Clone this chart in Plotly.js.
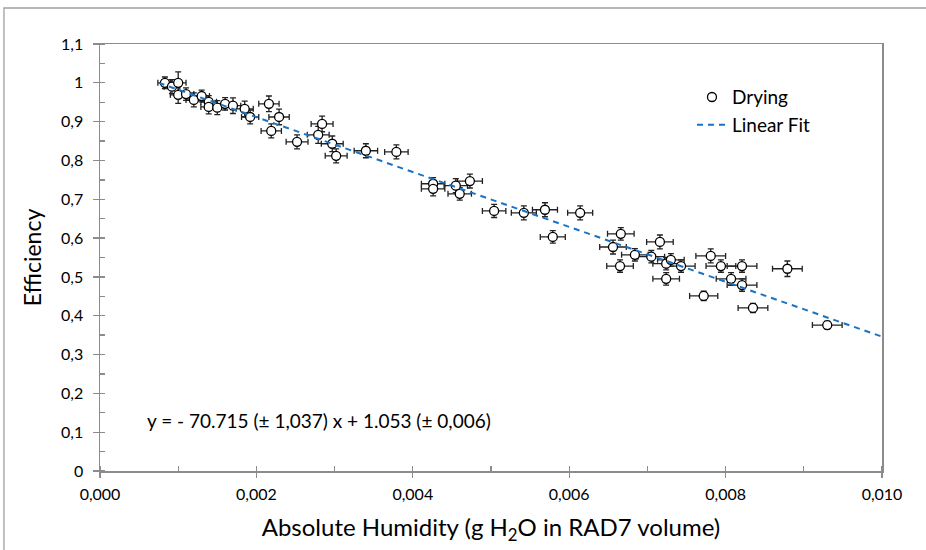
<!DOCTYPE html>
<html>
<head>
<meta charset="utf-8">
<script src="https://cdn.plot.ly/plotly-3.0.1.min.js"></script>
<style>html,body{margin:0;padding:0;background:#fff;}#chart{width:926px;height:550px;}</style>
</head>
<body>
<div id="chart"></div>
<script>
// Drying measurements: absolute humidity (g H2O) vs efficiency
const humidity = [0.00083,0.00092,0.00100,0.00100,0.00110,0.00120,0.00130,0.00139,0.00139,0.00150,
  0.00160,0.00170,0.00185,0.00192,0.00216,0.00229,0.00219,0.00252,0.00279,0.00284,
  0.00297,0.00302,0.00340,0.00379,0.00426,0.00426,0.00455,0.00460,0.00473,0.00504,
  0.00542,0.00569,0.00579,0.00614,0.00656,0.00666,0.00665,0.00684,0.00705,0.00716,
  0.00724,0.00730,0.00743,0.00724,0.00772,0.00781,0.00794,0.00807,0.00821,0.00821,
  0.00835,0.00879,0.00930];
const efficiency = [1.000,0.990,1.000,0.969,0.971,0.956,0.966,0.951,0.938,0.936,
  0.946,0.941,0.933,0.912,0.946,0.912,0.876,0.848,0.866,0.894,
  0.843,0.812,0.825,0.822,0.740,0.727,0.735,0.714,0.747,0.670,
  0.665,0.673,0.603,0.665,0.577,0.611,0.528,0.557,0.552,0.590,
  0.534,0.544,0.528,0.495,0.451,0.554,0.528,0.495,0.528,0.479,
  0.420,0.521,0.376];
const humidityErr = [0.00009,0.00010,0.00010,0.00010,0.00010,0.00010,0.00010,0.00010,0.00010,0.00010,
  0.00010,0.00010,0.00011,0.00011,0.00013,0.00013,0.00013,0.00014,0.00014,0.00014,
  0.00014,0.00014,0.00015,0.00015,0.00015,0.00015,0.00015,0.00015,0.00016,0.00015,
  0.00016,0.00016,0.00016,0.00016,0.00017,0.00017,0.00017,0.00017,0.00017,0.00017,
  0.00017,0.00017,0.00018,0.00017,0.00018,0.00019,0.00019,0.00019,0.00019,0.00019,
  0.00019,0.00019,0.00019];
const efficiencyErr = [0.015,0.018,0.028,0.022,0.016,0.018,0.015,0.016,0.018,0.018,
  0.016,0.020,0.020,0.018,0.020,0.020,0.018,0.018,0.022,0.020,
  0.020,0.018,0.018,0.018,0.016,0.018,0.018,0.016,0.018,0.017,
  0.018,0.018,0.016,0.018,0.018,0.016,0.016,0.016,0.016,0.018,
  0.016,0.016,0.016,0.016,0.012,0.018,0.016,0.016,0.016,0.016,
  0.012,0.020,0.010];
// Linear fit endpoints
const fitX = [0.00075, 0.0100];
const fitY = [1.000, 0.346];
// Tick labels
const xTickVals = [0, 0.002, 0.004, 0.006, 0.008, 0.010];
const xTickText = ['0,000','0,002','0,004','0,006','0,008','0,010'];
const yTickVals = [0,0.1,0.2,0.3,0.4,0.5,0.6,0.7,0.8,0.9,1.0,1.1];
const yTickText = ['0','0,1','0,2','0,3','0,4','0,5','0,6','0,7','0,8','0,9','1','1,1'];
const fitLabel = 'y = - 70.715 (± 1,037) x + 1.053 (± 0,006)';

const FONT = 'Lato, "Open Sans", sans-serif';
const AX = '#8c8c8c';

const traces = [
  {
    x: humidity, y: efficiency, type: 'scatter', mode: 'markers', name: 'Drying',
    marker: {symbol: 'circle', size: 9, color: '#ffffff', line: {color: '#000000', width: 1.3}},
    error_x: {type: 'data', array: humidityErr, visible: true, color: '#222', thickness: 1.3, width: 3},
    error_y: {type: 'data', array: efficiencyErr, visible: true, color: '#222', thickness: 1.3, width: 3}
  },
  {
    x: fitX, y: fitY, type: 'scatter', mode: 'lines', name: 'Linear Fit',
    line: {color: '#1a72c4', width: 2, dash: '6px,5px'}
  }
];

const layout = {
  width: 926, height: 550,
  margin: {l: 100, r: 44, t: 44, b: 79},
  paper_bgcolor: '#ffffff', plot_bgcolor: '#ffffff',
  font: {family: FONT, size: 16, color: '#000'},
  showlegend: true,
  legend: {x: 0.757, y: 0.92, xanchor: 'left', yanchor: 'top', bgcolor: 'rgba(0,0,0,0)',
    font: {family: FONT, size: 19, color: '#000'}, tracegroupgap: 0, itemwidth: 30},
  xaxis: {
    range: [0, 0.010], tickvals: xTickVals, ticktext: xTickText,
    showgrid: false, zeroline: false, showline: true, linecolor: AX, linewidth: 1.5, mirror: true,
    ticks: 'outside', ticklen: 5, tickcolor: AX, tickwidth: 1.3, ticklabelstandoff: 3,
    minor: {dtick: 0.001, ticks: 'inside', ticklen: 5, tickcolor: AX, tickwidth: 1.3, showgrid: false},
    tickfont: {family: FONT, size: 16, color: '#000'},
    title: {text: 'Absolute Humidity (g H<sub>2</sub>O in RAD7 volume)', font: {family: FONT, size: 24, color: '#000'}, standoff: 17}
  },
  yaxis: {
    range: [0, 1.1], tickvals: yTickVals, ticktext: yTickText,
    showgrid: false, zeroline: false, showline: true, linecolor: AX, linewidth: 1.5, mirror: true,
    ticks: 'outside', ticklen: 6, tickcolor: AX, tickwidth: 1.3, ticklabelstandoff: 6,
    minor: {dtick: 0.05, ticks: 'inside', ticklen: 5, tickcolor: AX, tickwidth: 1.3, showgrid: false},
    tickfont: {family: FONT, size: 16, color: '#000'},
    title: {text: 'Efficiency', font: {family: FONT, size: 23, color: '#000'}, standoff: 13}
  },
  annotations: [{
    x: 0.00058, y: 0.129, xref: 'x', yref: 'y', xanchor: 'left', yanchor: 'middle',
    text: fitLabel, showarrow: false, font: {family: FONT, size: 19, color: '#000'}
  }],
  shapes: [{
    type: 'rect', xref: 'paper', yref: 'paper',
    x0: -0.1228, x1: 1.08, y0: -0.25, y1: 1.0843,
    line: {color: '#a0a0a0', width: 1.3}, fillcolor: 'rgba(0,0,0,0)', layer: 'below'
  }]
};

Plotly.newPlot('chart', traces, layout, {displayModeBar: false, staticPlot: true});
</script>
</body>
</html>
